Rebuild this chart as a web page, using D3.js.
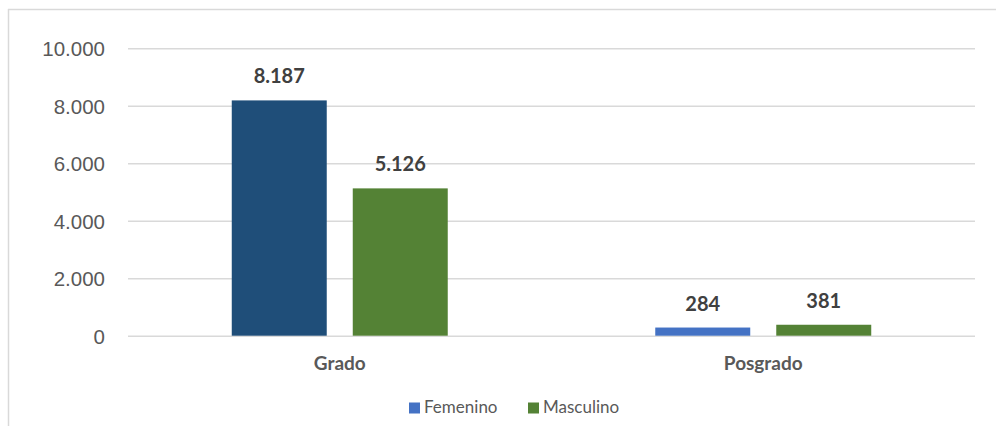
<!DOCTYPE html>
<html>
<head>
<meta charset="utf-8">
<script src="https://cdn.jsdelivr.net/npm/d3@7"></script>
<style>
  html, body { margin: 0; padding: 0; background: #fff; }
  svg { display: block; font-family: Lato, "Liberation Sans", sans-serif; }
</style>
</head>
<body>
<div id="chart"></div>
<script>
// data
const categories = ['Grado', 'Posgrado'];
const seriesNames = ['Femenino', 'Masculino'];
const femenino = [8187, 284];
const masculino = [5126, 381];
const yTicks = [0, 2000, 4000, 6000, 8000, 10000];

const width = 996, height = 426;
const plot = { left: 128, right: 975, top: 48.3, bottom: 335.7 };

// Excel-ish colours: the Grado female bar was recoloured in the original
const femColors = ['#1F4E79', '#4472C4'];
const mascColor = '#548235';
const legendColors = ['#4472C4', '#548235'];

const es = d3.formatLocale({ decimal: ',', thousands: '.', grouping: [3], currency: ['', ''] });
const fmt = es.format(',d');

const rows = categories.map((c, i) => ({ cat: c, idx: i, values: [femenino[i], masculino[i]] }));

const svg = d3.select('#chart').append('svg')
  .attr('width', width)
  .attr('height', height);

// chart area frame (only top and left edges show in the crop)
svg.append('line').attr('x1', 8).attr('x2', width).attr('y1', 9.5).attr('y2', 9.5)
  .attr('stroke', '#d9d9d9').attr('stroke-width', 1.5);
svg.append('line').attr('x1', 8.5).attr('x2', 8.5).attr('y1', 9).attr('y2', height)
  .attr('stroke', '#d9d9d9').attr('stroke-width', 1.5);

const y = d3.scaleLinear().domain([0, 10000]).range([plot.bottom, plot.top]);
const x0 = d3.scaleBand().domain(categories).range([plot.left, plot.right])
  .paddingInner(0.49).paddingOuter(0.245);
const x1 = d3.scaleBand().domain(seriesNames).range([0, x0.bandwidth()]).paddingInner(0.215);

// gridlines + y labels
const yAxis = svg.append('g')
  .attr('transform', `translate(${plot.left},0)`)
  .call(d3.axisLeft(y).tickValues(yTicks).tickFormat(fmt)
    .tickSize(-(plot.right - plot.left)).tickPadding(23));
yAxis.select('.domain').remove();
yAxis.selectAll('.tick line').attr('stroke', '#d9d9d9').attr('stroke-width', 1.5);
yAxis.selectAll('.tick text')
  .attr('fill', '#595959')
  .style('font-size', '20.5px')
  .attr('dy', '0.36em');

// bars
const groups = svg.append('g').selectAll('g')
  .data(rows)
  .join('g')
  .attr('transform', d => `translate(${x0(d.cat)},0)`);

groups.selectAll('rect')
  .data(d => d.values.map((v, k) => ({ key: seriesNames[k], v: v, idx: d.idx })))
  .join('rect')
  .attr('x', d => x1(d.key))
  .attr('width', x1.bandwidth())
  .attr('y', d => y(d.v))
  .attr('height', d => y(0) - y(d.v))
  .attr('fill', d => d.key === 'Femenino' ? femColors[d.idx] : mascColor);

groups.selectAll('text')
  .data(d => d.values.map((v, k) => ({ key: seriesNames[k], v: v })))
  .join('text')
  .attr('x', d => x1(d.key) + x1.bandwidth() / 2)
  .attr('y', d => y(d.v) - 17)
  .attr('text-anchor', 'middle')
  .attr('fill', '#404040')
  .style('font-size', '20px')
  .style('font-weight', 'bold')
  .text(d => fmt(d.v));

// category labels
svg.append('g').selectAll('text')
  .data(categories)
  .join('text')
  .attr('x', d => x0(d) + x0.bandwidth() / 2)
  .attr('y', 370)
  .attr('text-anchor', 'middle')
  .attr('fill', '#595959')
  .style('font-size', '19px')
  .style('font-weight', 'bold')
  .text(d => d);

// legend
const legendX = [409, 528];
const legend = svg.append('g').selectAll('g')
  .data(seriesNames)
  .join('g')
  .attr('transform', (d, i) => `translate(${legendX[i]},402.5)`);
legend.append('rect')
  .attr('width', 11).attr('height', 11)
  .attr('fill', (d, i) => legendColors[i]);
legend.append('text')
  .attr('x', 15).attr('y', 10.5)
  .attr('fill', '#595959')
  .style('font-size', '17px')
  .text(d => d);
</script>
</body>
</html>
